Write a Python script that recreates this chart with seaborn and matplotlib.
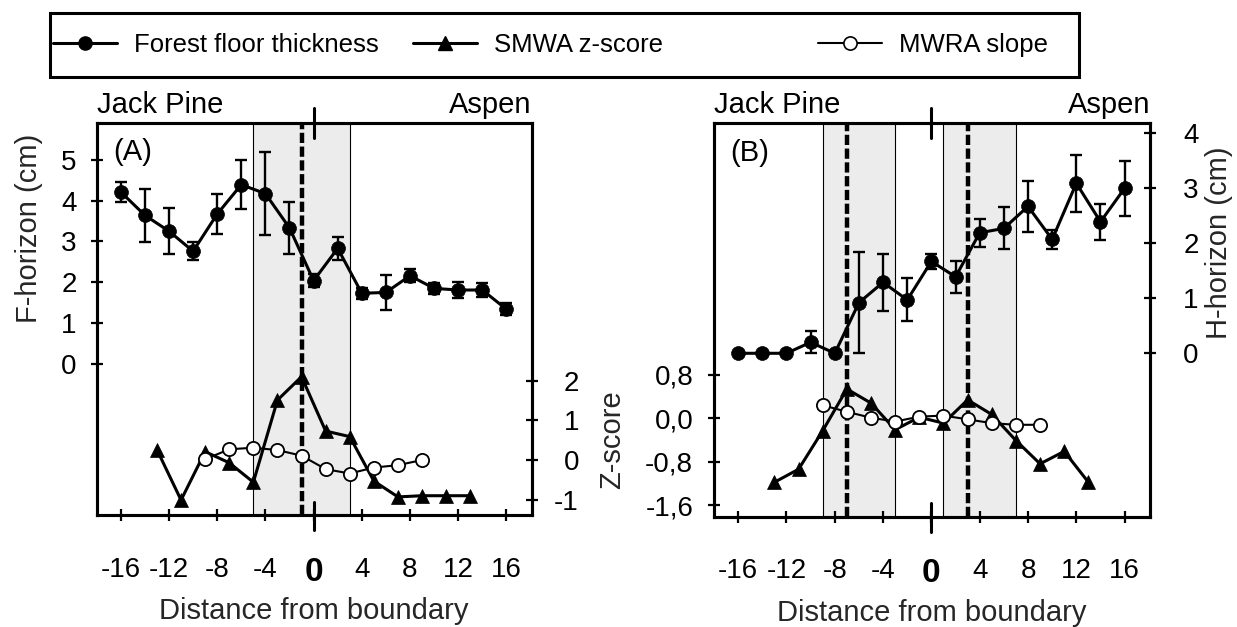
import matplotlib
matplotlib.use("Agg")
import matplotlib.pyplot as plt
import matplotlib.lines as mlines
import matplotlib.patches as mpatches
import seaborn as sns

# ---------------- data ----------------
dist_floor = [-16, -14, -12, -10, -8, -6, -4, -2, 0, 2, 4, 6, 8, 10, 12, 14, 16]
dist_z = [-13, -11, -9, -7, -5, -3, -1, 1, 3, 5, 7, 9, 11, 13]
dist_mwra = [-9, -7, -5, -3, -1, 1, 3, 5, 7, 9]

# Panel A
a_floor = [4.21, 3.64, 3.25, 2.76, 3.67, 4.39, 4.17, 3.33, 2.04, 2.83, 1.73, 1.75, 2.16, 1.85, 1.81, 1.81, 1.34]
a_floor_err = [0.24, 0.65, 0.56, 0.22, 0.50, 0.60, 1.02, 0.63, 0.15, 0.28, 0.13, 0.43, 0.16, 0.14, 0.20, 0.16, 0.15]
a_z = [0.26, -1.01, 0.21, -0.07, -0.56, 1.51, 2.10, 0.73, 0.59, -0.53, -0.93, -0.90, -0.90, -0.90]
a_mwra = [0.02, 0.27, 0.31, 0.25, 0.11, -0.23, -0.34, -0.19, -0.13, 0.00]
a_spans = [(-5, 3)]
a_dashed = [-1]

# Panel B
b_floor = [0.0, 0.0, 0.0, 0.20, 0.0, 0.92, 1.29, 0.97, 1.67, 1.39, 2.19, 2.27, 2.67, 2.07, 3.09, 2.39, 3.00]
b_floor_err = [0.0, 0.0, 0.0, 0.20, 0.0, 0.92, 0.52, 0.39, 0.13, 0.29, 0.25, 0.38, 0.46, 0.17, 0.52, 0.33, 0.50]
b_z = [-1.18, -0.94, -0.23, 0.54, 0.28, -0.21, 0.02, -0.09, 0.34, 0.07, -0.41, -0.84, -0.61, -1.18]
b_mwra = [0.24, 0.12, 0.01, -0.06, 0.03, 0.05, -0.02, -0.09, -0.12, -0.12]
b_spans = [(-9, -3), (1, 7)]
b_dashed = [-7, 3]

boundary = 0
x_ticks = [-16, -12, -8, -4, 0, 4, 8, 12, 16]
x_ticklabels = ["-16", "-12", "-8", "-4", "0", "4", "8", "12", "16"]
f_ticks = [0, 1, 2, 3, 4, 5]
f_ticklabels = ["0", "1", "2", "3", "4", "5"]
za_ticks = [-1, 0, 1, 2]
za_ticklabels = ["-1", "0", "1", "2"]
zb_ticks = [-1.6, -0.8, 0.0, 0.8]
zb_ticklabels = ["-1,6", "-0,8", "0,0", "0,8"]
h_ticks = [0, 1, 2, 3, 4]
h_ticklabels = ["0", "1", "2", "3", "4"]

legend_labels = ["Forest floor thickness", "SMWA z-score", "MWRA slope"]

# ---------------- style ----------------
sns.set_theme(style="white")
plt.rcParams["font.family"] = ["Liberation Sans", "DejaVu Sans"]
plt.rcParams["axes.edgecolor"] = "black"
plt.rcParams["axes.linewidth"] = 2.0
plt.rcParams["text.color"] = "black"
plt.rcParams["xtick.color"] = "black"
plt.rcParams["ytick.color"] = "black"

TICK_FS = 20
LABEL_FS = 21
LW = 2.2
MS = 10

fig = plt.figure(figsize=(12.37, 6.27), dpi=100)
W, H = 1237.0, 627.0


def fig_rect(l, t, r, b):
    return [l / W, 1 - b / H, (r - l) / W, (b - t) / H]


axA = fig.add_axes(fig_rect(96.7, 123, 531.7, 515))
axA2 = axA.twinx()
axB = fig.add_axes(fig_rect(714, 123.3, 1150, 516.7))
axB2 = axB.twinx()


def decorate_base(ax, spans, dashed):
    for lo, hi in spans:
        ax.axvspan(lo, hi, color="#ececec", zorder=0, lw=0)
        ax.axvline(lo, color="black", lw=0.8, zorder=1)
        ax.axvline(hi, color="black", lw=0.8, zorder=1)
    for d in dashed:
        ax.axvline(d, color="black", lw=3.2, ls=(0, (2.3, 0.8)), zorder=1.5)
    # boundary marks crossing top and bottom spines
    ax.axvline(boundary, ymin=0.963, ymax=1.038, color="black", lw=2.2, clip_on=False, zorder=5)
    ax.axvline(boundary, ymin=-0.038, ymax=0.034, color="black", lw=2.2, clip_on=False, zorder=5)
    ax.set_xlim(-18, 18.1)
    ax.set_xticks(x_ticks)
    ax.set_xticklabels(x_ticklabels)
    for lab in ax.get_xticklabels():
        lab.set_fontsize(TICK_FS)
        if lab.get_text() == "0":
            lab.set_fontweight("bold")
            lab.set_fontsize(24)
    ax.tick_params(axis="x", direction="inout", length=8, width=1.6, pad=26, bottom=True, top=False)
    ax.grid(False)


def plot_floor(ax, floor, err):
    ax.errorbar(dist_floor, floor, yerr=err, fmt="none", ecolor="black",
                elinewidth=1.7, capsize=4.5, capthick=1.7, zorder=3)
    sns.lineplot(x=dist_floor, y=floor, ax=ax, color="black", lw=LW, marker="o",
                 markersize=MS, markerfacecolor="black", markeredgecolor="black",
                 markeredgewidth=0.5, legend=False, zorder=4)


def plot_z(ax, z, mwra):
    sns.lineplot(x=dist_z, y=z, ax=ax, color="black", lw=LW, marker="^",
                 markersize=MS + 0.5, markerfacecolor="black", markeredgecolor="black",
                 markeredgewidth=0.5, legend=False, zorder=4)
    sns.lineplot(x=dist_mwra, y=mwra, ax=ax, color="black", lw=1.5, marker="o",
                 markersize=MS - 0.5, markerfacecolor="white", markeredgecolor="black",
                 markeredgewidth=1.3, legend=False, zorder=4.5)


# ---------------- Panel A ----------------
decorate_base(axA, a_spans, a_dashed)
plot_floor(axA, a_floor, a_floor_err)
plot_z(axA2, a_z, a_mwra)
axA.set_ylim(-3.70, 5.90)
axA2.set_ylim(-1.386, 8.495)
axA.set_yticks(f_ticks)
axA.set_yticklabels(f_ticklabels, fontsize=TICK_FS)
axA.tick_params(axis="y", direction="inout", length=8, width=1.6, pad=10.5, left=True, right=False)
axA2.set_yticks(za_ticks)
axA2.set_yticklabels(za_ticklabels, fontsize=TICK_FS, ha="right")
axA2.tick_params(axis="y", direction="inout", length=8, width=1.6, pad=30, right=True, left=False)
axA.set_ylabel("F-horizon (cm)", fontsize=LABEL_FS)
axA.yaxis.set_label_coords(-0.123, 0.73)
axA.set_xlabel("Distance from boundary", fontsize=LABEL_FS)
axA.xaxis.set_label_coords(0.5, -0.21)
axA2.set_ylabel("")

# ---------------- Panel B ----------------
decorate_base(axB, b_spans, b_dashed)
plot_z(axB, b_z, b_mwra)
plot_floor(axB2, b_floor, b_floor_err)
axB.set_ylim(-1.815, 5.44)
axB2.set_ylim(-2.97, 4.18)
axB.set_yticks(zb_ticks)
axB.set_yticklabels(zb_ticklabels, fontsize=TICK_FS)
axB.tick_params(axis="y", direction="inout", length=8, width=1.6, pad=11, left=True, right=False)
axB2.set_yticks(h_ticks)
axB2.set_yticklabels(h_ticklabels, fontsize=TICK_FS)
axB2.tick_params(axis="y", direction="inout", length=8, width=1.6, pad=20, right=True, left=False)
axB.set_ylabel("Z-score", fontsize=LABEL_FS)
axB.yaxis.set_label_coords(-0.202, 0.195)
axB2.set_ylabel("H-horizon (cm)", fontsize=LABEL_FS)
axB2.yaxis.set_label_coords(1.127, 0.696)
axB.set_xlabel("Distance from boundary", fontsize=LABEL_FS)
axB.xaxis.set_label_coords(0.5, -0.21)

for ax in (axA, axA2, axB, axB2):
    for s in ax.spines.values():
        s.set_linewidth(2.2)
        s.set_color("black")
        s.set_visible(True)
    ax.grid(False)

# site names and panel letters
for ax, letter in ((axA, "(A)"), (axB, "(B)")):
    ax.text(0.0, 1.025, "Jack Pine", transform=ax.transAxes, ha="left", va="baseline", fontsize=LABEL_FS)
    ax.text(1.0, 1.025, "Aspen", transform=ax.transAxes, ha="right", va="baseline", fontsize=LABEL_FS)
    ax.text(0.037, 0.925, letter, transform=ax.transAxes, ha="left", va="center", fontsize=LABEL_FS, zorder=10)

# ---------------- legend ----------------
h_floor = mlines.Line2D([], [], color="black", lw=LW, marker="o", markersize=MS - 0.5,
                        markerfacecolor="black", markeredgecolor="black")
h_z = mlines.Line2D([], [], color="black", lw=LW, marker="^", markersize=MS - 0.5,
                    markerfacecolor="black", markeredgecolor="black")
h_mwra = mlines.Line2D([], [], color="black", lw=1.5, marker="o", markersize=MS - 0.5,
                       markerfacecolor="white", markeredgecolor="black", markeredgewidth=1.2)
handles = [h_floor, h_z, h_mwra]
starts = [53, 413, 818]
for h, lab, x0 in zip(handles, legend_labels, starts):
    fig.legend([h], [lab], loc="center left", bbox_to_anchor=(x0 / W, 1 - 45 / H),
               frameon=False, fontsize=18.5, handlelength=2.5, handletextpad=0.65,
               borderpad=0, borderaxespad=0, numpoints=1)

frame = mpatches.Rectangle((50 / W, 1 - 77 / H), (1079 - 50) / W, (77 - 13) / H,
                           transform=fig.transFigure, fill=False, edgecolor="black", lw=2.2)
fig.add_artist(frame)

fig.savefig("out.png", dpi=100)
